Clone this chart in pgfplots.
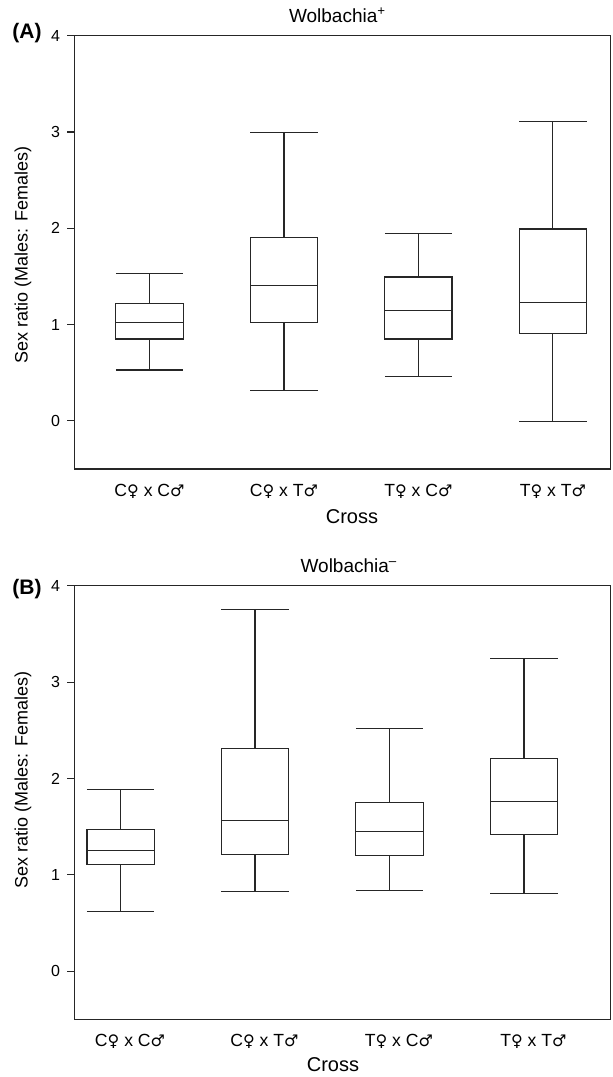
\documentclass[border=0pt]{standalone}
\usepackage{fontspec}
\setmainfont{Liberation Sans}
\newfontfamily\sym{DejaVu Sans}
\usepackage{pgfplots}
\pgfplotsset{compat=1.18}
\usepgfplotslibrary{statistics}
\newcommand{\fs}[1]{\fontsize{#1}{#1}\selectfont}
\newcommand{\F}{{\sym\fontsize{8}{8}\selectfont ♀}}
\newcommand{\M}{{\sym\fontsize{8}{8}\selectfont ♂}}
\definecolor{ln}{gray}{0.15}
\pgfplotsset{
  panel/.style={
    scale only axis, width=268.25pt, height=216.7pt,
    ymin=-0.5, ymax=4, ytick={0,1,2,3,4},
    axis line style={line width=0.6pt, ln},
    ytick pos=left, tick align=outside, major tick length=3.5pt,
    every tick/.style={ln, line width=0.6pt},
    xtick style={draw=none},
    xticklabels={C\F\ x C\M, C\F\ x T\M, T\F\ x C\M, T\F\ x T\M},
    yticklabel style={font=\fs{8}},
    xticklabel style={font=\fs{8.8}, yshift=-0.6pt},
    /pgf/number format/assume math mode=true,
    clip=false,
  },
  bx/.style n args={6}{ln, line width=0.6pt, solid,
    boxplot prepared={draw direction=y, draw position=#1, lower whisker=#2, lower quartile=#3,
      median=#4, upper quartile=#5, upper whisker=#6,
      box extend=0.5, whisker extend=0.5}},
}
\begin{document}
\begin{tikzpicture}
\useasboundingbox (0,0) rectangle (306pt,538.5pt);
% Panel A
\begin{axis}[panel, at={(37.1pt,304pt)}, anchor=south west,
  xmin=0.44, xmax=4.43, xtick={1,2,3,4}]
\addplot[bx={1}{0.527}{0.849}{1.025}{1.220}{1.527}] coordinates {};
\addplot[bx={2}{0.319}{1.025}{1.403}{1.901}{2.992}] coordinates {};
\addplot[bx={3}{0.457}{0.849}{1.147}{1.493}{1.943}] coordinates {};
\addplot[bx={4}{-0.003}{0.908}{1.230}{1.992}{3.106}] coordinates {};
\end{axis}
% Panel B
\begin{axis}[panel, at={(37.1pt,28.85pt)}, anchor=south west,
  xmin=0.655, xmax=4.645, xtick={1.07,2.07,3.07,4.07}]
\addplot[bx={1}{0.619}{1.104}{1.255}{1.473}{1.885}] coordinates {};
\addplot[bx={2}{0.827}{1.207}{1.566}{2.310}{3.752}] coordinates {};
\addplot[bx={3}{0.837}{1.197}{1.452}{1.747}{2.521}] coordinates {};
\addplot[bx={4}{0.807}{1.415}{1.763}{2.207}{3.244}] coordinates {};
\end{axis}
% texts
\node[anchor=base, font=\fs{9.5}] at (168.8pt,527pt) {Wolbachia\textsuperscript{+}};
\node[anchor=base, font=\fs{9.5}] at (174.5pt,252pt) {Wolbachia\textsuperscript{–}};
\node[anchor=base west, inner sep=0pt, font=\fs{10.5}\bfseries] at (6pt,519pt) {(A)};
\node[anchor=base west, inner sep=0pt, font=\fs{10.5}\bfseries] at (6pt,241pt) {(B)};
\node[font=\fs{10}] at (176pt,280pt) {Cross};
\node[font=\fs{10}] at (166.5pt,6pt) {Cross};
\node[rotate=90, font=\fs{9}] at (11.5pt,411pt) {Sex ratio (Males: Females)};
\node[rotate=90, font=\fs{9}] at (11.5pt,148.5pt) {Sex ratio (Males: Females)};
\end{tikzpicture}
\end{document}
